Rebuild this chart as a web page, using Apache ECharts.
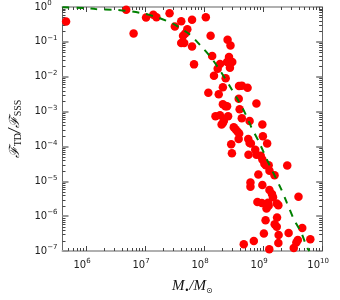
<!DOCTYPE html>
<html><head><meta charset="utf-8">
<script src="https://cdn.jsdelivr.net/npm/echarts@6/dist/echarts.min.js"></script>
<style>html,body{margin:0;padding:0;background:#fff}#c{width:340px;height:300px}</style>
</head><body><div id="c"></div>
<script>
// Black hole mass (M_bh / M_sun) of each event
const massX = [4.6e5,4.8e6,6.4e6,1.04e7,1.38e7,1.56e7,2.6e7,3.2e7,4.1e7,5.2e7,
  6.25e7,1.07e8,4.8e7,4.4e7,4.1e7,4.6e7,6.25e7,1.29e8,6.75e7,2.5e8,
  2.8e8,1.37e8,2.64e8,2.45e8,3.0e8,1.86e8,1.7e8,2.74e8,1.47e8,2.32e8,
  2.08e8,3.9e8,4.35e8,5.45e8,1.18e8,1.77e8,3.86e8,2.08e8,2.3e8,2.45e8,
  7.7e8,4.0e8,1.56e8,1.86e8,2.55e8,4.35e8,5.9e8,2.16e8,2.08e8,1.98e8,
  9.7e8,3.18e8,3.44e8,3.7e8,3.93e8,9.9e8,3.85e8,5.6e8,5.9e8,6.2e8,
  2.88e8,1.17e9,7.35e8,2.96e8,5.65e8,7.7e8,9.1e8,9.7e8,1.05e9,1.11e9,
  1.24e9,2.56e9,1.28e9,8.3e8,1.56e9,6.1e8,6.1e8,9.7e8,1.28e9,1.41e9,
  1.47e9,3.97e9,8.0e8,9.5e8,1.21e9,1.24e9,1.14e9,1.7e9,1.81e9,1.72e9,
  1.1e9,1.57e9,1.7e9,4.6e9,1.03e9,1.83e9,2.7e9,1.81e9,3.87e9,3.65e9,
  6.3e9,6.95e8,4.7e8,3.3e9,1.27e9];
// Ratio F_TD / F_SSS of each event
const ratioY = [0.385,0.83,0.174,0.50,0.60,0.51,0.66,0.277,0.39,0.231,
  0.43,0.51,0.174,0.15,0.092,0.092,0.074,0.15,0.0226,0.115,
  0.079,0.039,0.0366,0.0263,0.0263,0.023,0.017,0.0182,0.0107,0.009,
  0.005,0.0054,0.00555,0.00486,0.00345,0.00313,0.00232,0.00162,0.00142,0.00142,
  0.0017,0.00116,7.3e-4,7.8e-4,7.3e-4,6.4e-4,5.4e-4,5.4e-4,4.7e-4,4.24e-4,
  4.24e-4,3.55e-4,3.05e-4,2.64e-4,2.34e-4,1.96e-4,1.64e-4,1.64e-4,1.26e-4,1.21e-4,
  1.16e-4,1.21e-4,8.05e-5,6.4e-5,5.8e-5,5.8e-5,5.4e-5,4.2e-5,3.2e-5,2.9e-5,
  2.9e-5,2.84e-5,2.0e-5,1.57e-5,1.5e-5,9.3e-6,7.0e-6,7.8e-6,5.6e-6,4.3e-6,
  3.5e-6,3.6e-6,2.53e-6,2.37e-6,2.44e-6,2.0e-6,1.67e-6,2.3e-6,2.07e-6,9.1e-7,
  7.6e-7,5.9e-7,5.0e-7,4.56e-7,3.2e-7,2.87e-7,3.28e-7,1.7e-7,2.07e-7,1.75e-7,
  2.18e-7,1.94e-7,1.56e-7,1.22e-7,1.12e-7];
// Model curve (green dashed)
const modelX = [4e5,1e6,1.45e6,3.1e6,5.4e6,9.5e6,1.66e7,2.92e7,5.74e7,8.67e7,
  1.31e8,1.91e8,2.67e8,3.61e8,4.87e8,6.32e8,8.55e8,1.15e9,2.02e9,2.54e9,
  3.3e9,4.45e9,5.57e9,6.1e9];
const modelY = [0.98,0.93,0.87,0.83,0.76,0.65,0.50,0.337,0.163,0.079,
  0.0358,0.0142,0.00566,0.0024,9.5e-4,3.55e-4,1.32e-4,4.3e-5,5.96e-6,2.37e-6,
  8.2e-7,3.3e-7,1.22e-7,1.0e-7];
// Axis ranges and tick decades
const xRange = [4e5, 1e10];
const yRange = [1e-7, 1];
const xMinorDecades = [5,6,7,8,9];
const yMinorDecades = [-7,-6,-5,-4,-3,-2,-1];

function minorTicks(decades, lo, hi) {
  const out = [];
  decades.forEach(d => { for (let m = 2; m <= 9; m++) { const v = m * Math.pow(10, d); if (v > lo && v < hi) out.push(v); } });
  return out;
}
const xMinor = minorTicks(xMinorDecades, xRange[0], xRange[1]);
const yMinor = minorTicks(yMinorDecades, yRange[0], yRange[1]);

function powLabel(v) {
  const e = Math.round(Math.log10(v));
  if (Math.abs(v / Math.pow(10, e) - 1) > 1e-6) return '';
  return '{b|10}{s|' + (e < 0 ? '\u2212' + (-e) : e) + '}';
}
const labRich = {
  b: {fontFamily: 'DejaVu Sans', fontSize: 10, color: '#222', lineHeight: 14},
  s: {fontFamily: 'DejaVu Sans', fontSize: 7, color: '#222', verticalAlign: 'top', lineHeight: 8}
};
const xLabRich = {
  b: Object.assign({}, labRich.b),
  s: Object.assign({}, labRich.s, {padding: [0, 8, 0, 0]})
};

const tickCol = '#444';
const chart = echarts.init(document.getElementById('c'), null, {renderer: 'canvas'});
const px = v => Math.round(v) + 0.5;

chart.setOption({
  animation: false,
  backgroundColor: '#fff',
  grid: {left: 55, right: 14, top: 6.5, bottom: 49},
  xAxis: [{
    type: 'log', logBase: 10, min: xRange[0], max: xRange[1], splitNumber: 5,
    position: 'bottom',
    axisLine: {onZero: false, lineStyle: {color: '#b0b0b0', width: 2}},
    axisTick: {inside: true, length: 5, lineStyle: {color: tickCol, width: 1}},
    axisLabel: {formatter: powLabel, rich: xLabRich, margin: 7, showMinLabel: false},
    splitLine: {show: false},
    name: '{m|M}{sb|\u2022}{m|/M}{sb|\u2299}',
    nameLocation: 'middle', nameGap: 26,
    nameTextStyle: {rich: {
      m: {fontFamily: 'Liberation Serif', fontStyle: 'italic', fontSize: 15, color: '#111', lineHeight: 18},
      sb: {fontFamily: 'DejaVu Sans', fontSize: 8, color: '#111', verticalAlign: 'bottom', lineHeight: 10}
    }}
  }, {
    type: 'log', logBase: 10, min: xRange[0], max: xRange[1], splitNumber: 5,
    position: 'top',
    axisLine: {onZero: false, lineStyle: {color: '#b0b0b0', width: 2}},
    axisTick: {inside: true, length: 5, lineStyle: {color: tickCol, width: 1}},
    axisLabel: {show: false}, splitLine: {show: false}
  }],
  yAxis: [{
    type: 'log', logBase: 10, min: yRange[0], max: yRange[1], splitNumber: 7,
    position: 'left',
    axisLine: {onZero: false, lineStyle: {color: '#666', width: 1}},
    axisTick: {inside: true, length: 6, lineStyle: {color: '#999', width: 2}},
    axisLabel: {formatter: powLabel, rich: labRich, margin: 28, align: 'left'},
    splitLine: {show: false},
    name: '{f|\u2131}{sub|TD}{f|/\u2131}{sub|SSS}',
    nameLocation: 'middle', nameGap: 39,
    nameTextStyle: {rich: {
      f: {fontFamily: 'DejaVu Serif', fontStyle: 'italic', fontSize: 14, color: '#111', lineHeight: 17},
      sub: {fontFamily: 'Liberation Serif', fontSize: 10, color: '#111', verticalAlign: 'bottom', lineHeight: 11}
    }}
  }, {
    type: 'log', logBase: 10, min: yRange[0], max: yRange[1], splitNumber: 7,
    position: 'right',
    axisLine: {onZero: false, lineStyle: {color: '#666', width: 1}},
    axisTick: {inside: true, length: 6, lineStyle: {color: '#999', width: 2}},
    axisLabel: {show: false}, splitLine: {show: false}
  }],
  series: [{
    type: 'custom', name: 'xminor', silent: true, clip: false, z: 1,
    data: xMinor.map(v => [v, 1e-3]),
    renderItem: (params, api) => {
      const cs = params.coordSys;
      const x = px(api.coord([api.value(0), 1e-3])[0]);
      const b = cs.y + cs.height, t = cs.y;
      return {type: 'group', children: [
        {type: 'line', shape: {x1: x, y1: b, x2: x, y2: b - 3}, style: {stroke: tickCol, lineWidth: 1}},
        {type: 'line', shape: {x1: x, y1: t, x2: x, y2: t + 3}, style: {stroke: tickCol, lineWidth: 1}}
      ]};
    }
  }, {
    type: 'custom', name: 'yminor', silent: true, clip: false, z: 1,
    data: yMinor.map(v => [1e8, v]),
    renderItem: (params, api) => {
      const cs = params.coordSys;
      const y = px(api.coord([1e8, api.value(1)])[1]);
      const l = cs.x, r = cs.x + cs.width;
      return {type: 'group', children: [
        {type: 'line', shape: {x1: l, y1: y, x2: l + 3, y2: y}, style: {stroke: tickCol, lineWidth: 1}},
        {type: 'line', shape: {x1: r, y1: y, x2: r - 3, y2: y}, style: {stroke: tickCol, lineWidth: 1}}
      ]};
    }
  }, {
    type: 'scatter', name: 'events', z: 3,
    data: massX.map((m, i) => [m, ratioY[i]]),
    symbol: 'circle', symbolSize: 8.5,
    itemStyle: {color: '#ff0000', opacity: 1}
  }, {
    type: 'line', name: 'model', z: 4,
    data: modelX.map((m, i) => [m, modelY[i]]),
    showSymbol: false, smooth: 0.2,
    lineStyle: {color: '#008000', width: 2, type: [7, 7]}
  }]
});
</script></body></html>
